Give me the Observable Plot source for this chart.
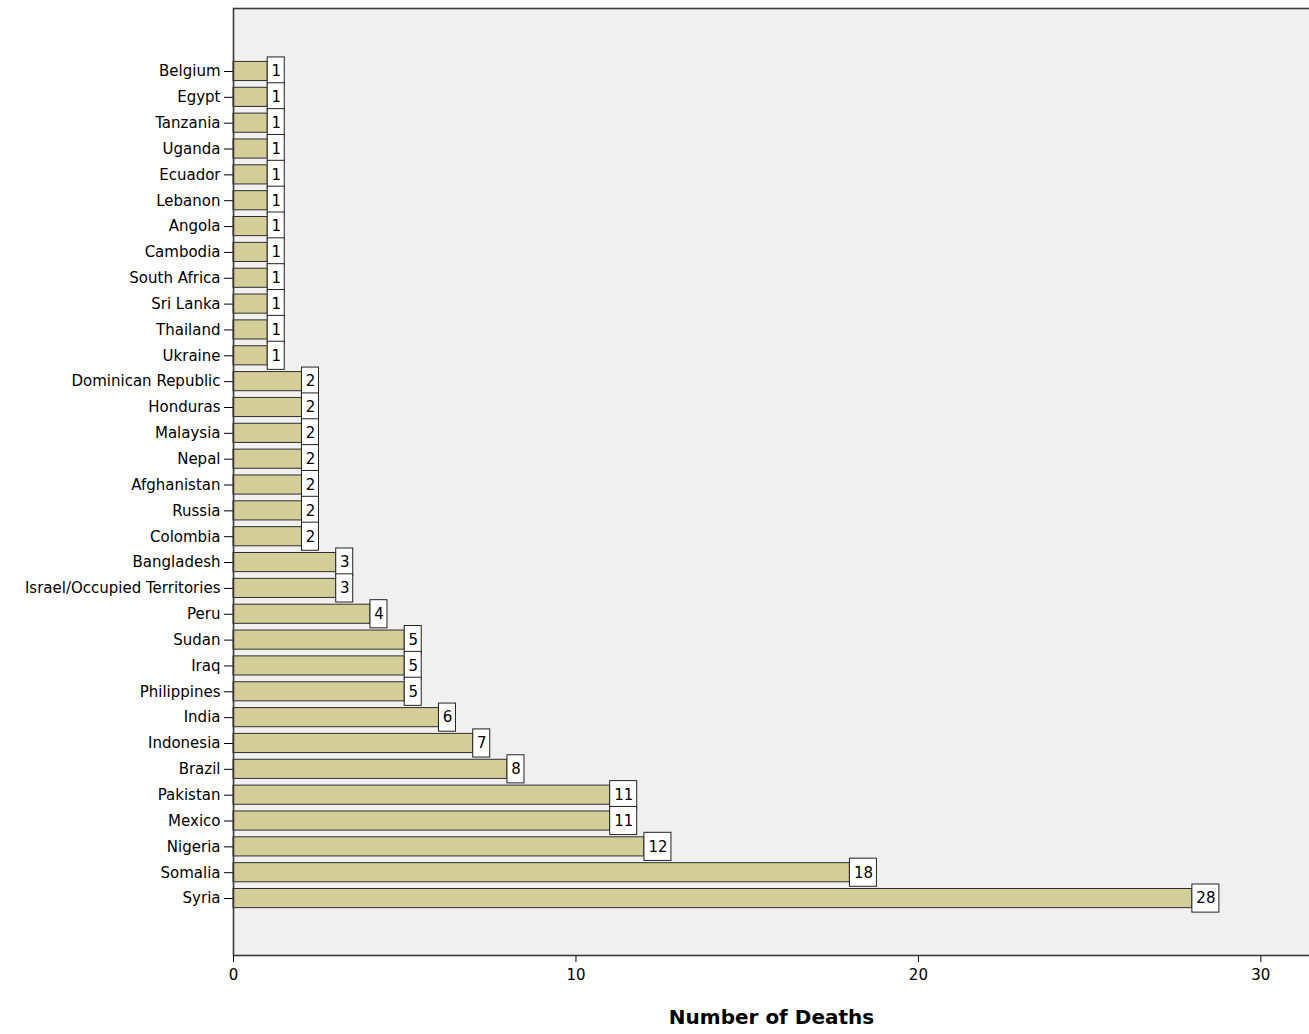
<!DOCTYPE html>
<html>
<head>
<meta charset="utf-8">
<script src="https://cdn.jsdelivr.net/npm/d3@7"></script>
<script src="https://cdn.jsdelivr.net/npm/@observablehq/plot@0.6"></script>
<style>
  html, body { margin: 0; padding: 0; background: #ffffff; }
  #chart svg { display: block; }
</style>
</head>
<body>
<div id="chart"></div>
<script>
const countries = [
  "Belgium", "Egypt", "Tanzania", "Uganda", "Ecuador", "Lebanon", "Angola", "Cambodia",
  "South Africa", "Sri Lanka", "Thailand", "Ukraine", "Dominican Republic", "Honduras",
  "Malaysia", "Nepal", "Afghanistan", "Russia", "Colombia", "Bangladesh",
  "Israel/Occupied Territories", "Peru", "Sudan", "Iraq", "Philippines", "India",
  "Indonesia", "Brazil", "Pakistan", "Mexico", "Nigeria", "Somalia", "Syria"
];
const deaths = [
  1, 1, 1, 1, 1, 1, 1, 1,
  1, 1, 1, 1, 2, 2,
  2, 2, 2, 2, 2, 3,
  3, 4, 5, 5, 5, 6,
  7, 8, 11, 11, 12, 18, 28
];
const xTicks = [0, 10, 20, 30];
const axisTitle = "Number of Deaths";

const data = countries.map((c, i) => ({country: c, deaths: deaths[i]}));
const oneDigit = data.filter(d => String(d.deaths).length === 1);
const twoDigit = data.filter(d => String(d.deaths).length === 2);

const barFill = "#d3ce97";
const barStroke = "#2e2e2e";

const chart = Plot.plot({
  width: 1309,
  height: 1034,
  marginLeft: 233,
  marginRight: 0,
  marginTop: 8,
  marginBottom: 79,
  style: {fontFamily: "'DejaVu Sans', sans-serif", fontSize: "15px", color: "#000", background: "#ffffff"},
  x: {domain: [0, 31.42], ticks: xTicks, tickSize: 7, tickPadding: 7, label: null},
  y: {domain: countries, paddingInner: 0.26, paddingOuter: 1.95, align: 0.53, round: false, tickSize: 9, tickPadding: 4, label: null},
  marks: [
    Plot.frame({fill: "#f0f0f0", stroke: null}),
    Plot.barX(data, {y: "country", x: "deaths", fill: barFill, stroke: barStroke, strokeWidth: 1}),
    Plot.rect(oneDigit, {x1: "deaths", x2: "deaths", y: "country", insetLeft: 0, insetRight: -17,
      insetTop: -4.5, insetBottom: -4.5, fill: "#ffffff", stroke: "#222", strokeWidth: 1}),
    Plot.rect(twoDigit, {x1: "deaths", x2: "deaths", y: "country", insetLeft: 0, insetRight: -27,
      insetTop: -4.5, insetBottom: -4.5, fill: "#ffffff", stroke: "#222", strokeWidth: 1}),
    Plot.text(oneDigit, {x: "deaths", y: "country", text: d => String(d.deaths), dx: 8.5, textAnchor: "middle", fontSize: 15, fill: "#000"}),
    Plot.text(twoDigit, {x: "deaths", y: "country", text: d => String(d.deaths), dx: 13.5, textAnchor: "middle", fontSize: 15, fill: "#000"}),
    Plot.frame({stroke: "#3a3a3a", strokeWidth: 1.6, fill: "none", insetRight: -4}),
    Plot.text([axisTitle], {frameAnchor: "bottom", dy: 68, fontWeight: "bold", fontSize: 20, fill: "#000"})
  ]
});
document.getElementById("chart").appendChild(chart);
</script>
</body>
</html>
